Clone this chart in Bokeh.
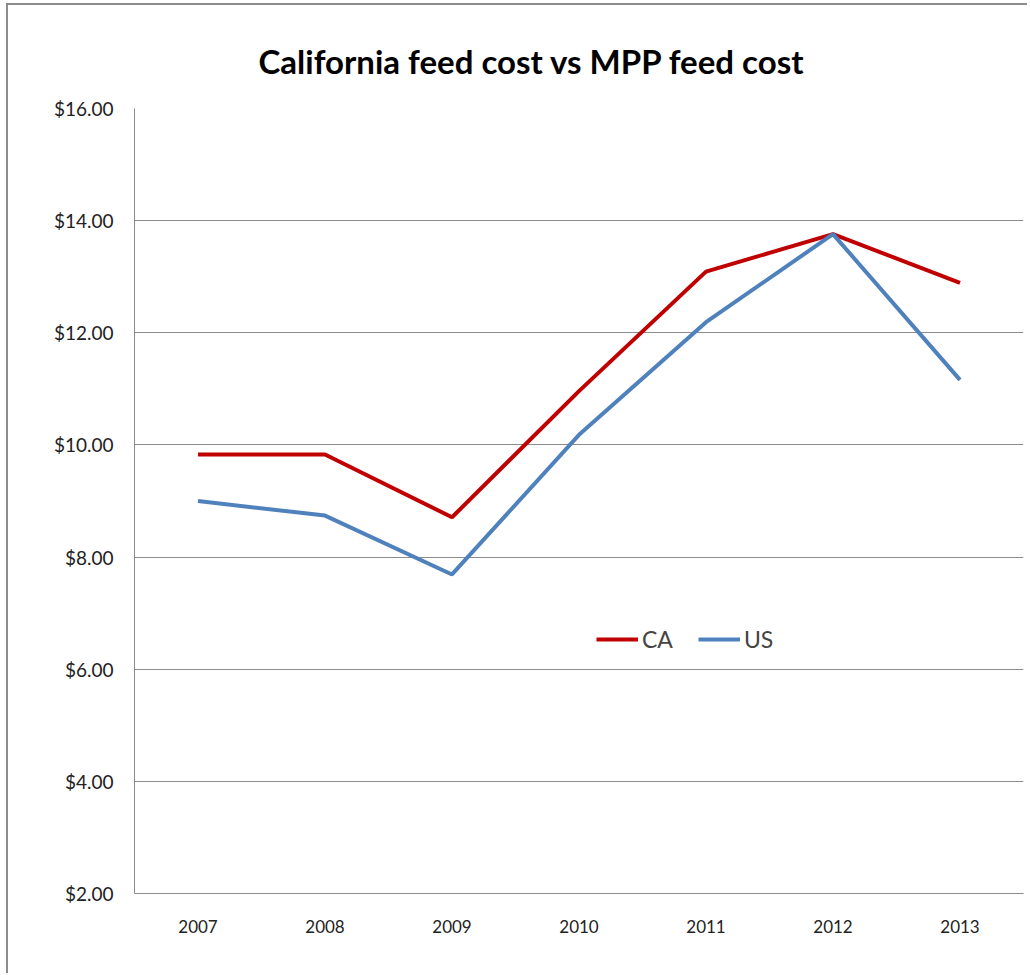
from bokeh.plotting import figure
from bokeh.models import ColumnDataSource, NumeralTickFormatter, FixedTicker, Legend, LegendItem, Range1d, FactorRange
from bokeh.embed import file_html
from bokeh.resources import INLINE

years = ["2007", "2008", "2009", "2010", "2011", "2012", "2013"]
ca_cost = [9.83, 9.83, 8.71, 10.96, 13.09, 13.76, 12.89]
us_cost = [9.00, 8.74, 7.69, 10.18, 12.19, 13.76, 11.16]
y_ticks = [2, 4, 6, 8, 10, 12, 14, 16]

FONT = "Lato"
src = ColumnDataSource(dict(year=years, ca=ca_cost, us=us_cost))

p = figure(width=1021, height=970, x_range=FactorRange(*years), y_range=Range1d(2, 16),
           output_backend="svg", toolbar_location=None,
           min_border_left=126, min_border_right=6, min_border_bottom=82, min_border_top=103)

p.title.text = "California feed cost vs MPP feed cost"
p.title.text_font = FONT
p.title.text_font_size = "33px"
p.title.text_font_style = "bold"
p.title.align = "left"
p.title.offset = 124
p.title.standoff = 55
p.title.text_color = "#000000"

r_ca = p.line("year", "ca", source=src, line_color="#C00000", line_width=4)
r_us = p.line("year", "us", source=src, line_color="#4F81BD", line_width=4)

p.yaxis.ticker = FixedTicker(ticks=y_ticks)
p.yaxis.formatter = NumeralTickFormatter(format="$0.00")
for ax in (p.xaxis[0], p.yaxis[0]):
    ax.major_tick_line_color = None
    ax.minor_tick_line_color = None
    ax.major_tick_out = 0
    ax.major_tick_in = 0
    ax.axis_line_color = "#8c8c8c"
    ax.axis_line_width = 1
    ax.major_label_text_font = FONT
    ax.major_label_text_color = "#222222"
p.yaxis.major_label_text_font_size = "19px"
p.yaxis.major_label_standoff = 21
p.xaxis.major_label_text_font_size = "17px"
p.xaxis.major_label_standoff = 26

p.xgrid.grid_line_color = None
p.ygrid.grid_line_color = "#8c8c8c"
p.ygrid.grid_line_width = 1
p.outline_line_color = None

legend = Legend(items=[LegendItem(label="CA", renderers=[r_ca]), LegendItem(label="US", renderers=[r_us])],
                orientation="horizontal", location=(462, 240), padding=0, margin=0, spacing=25,
                glyph_width=42, glyph_height=24, label_standoff=4,
                label_text_font=FONT, label_text_font_size="23px",
                background_fill_alpha=0, border_line_color=None)
p.add_layout(legend)

p.styles = {"border-left": "2px solid #8c8c8c", "border-top": "2px solid #8c8c8c",
            "margin-left": "6px", "margin-top": "3px"}

open("out.html", "w").write(file_html(p, INLINE))
